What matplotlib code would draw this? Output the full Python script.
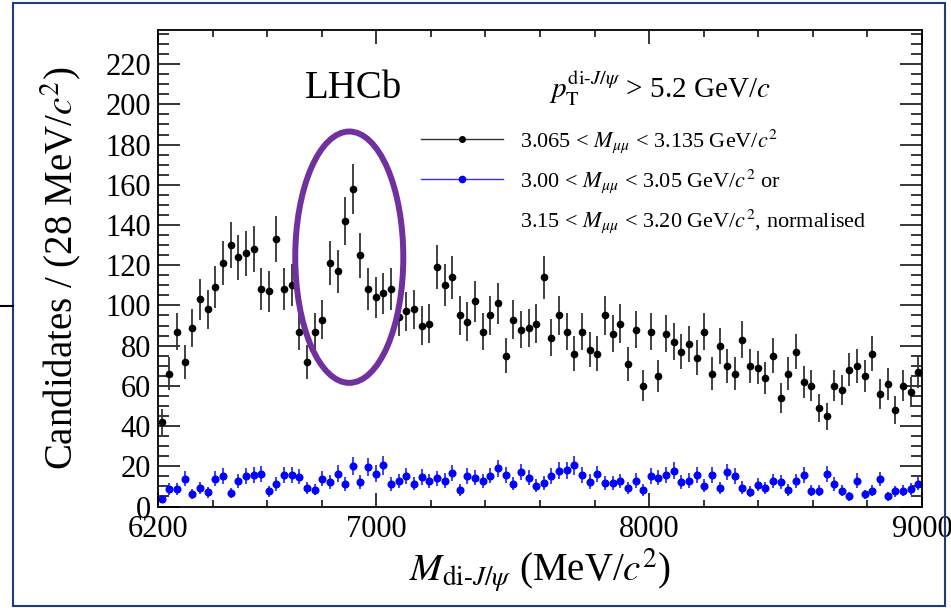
import numpy as np
import matplotlib
matplotlib.use('Agg')
import matplotlib.pyplot as plt
from matplotlib.lines import Line2D
from matplotlib.patches import Ellipse, Rectangle, Patch
from matplotlib.ticker import MultipleLocator

plt.rcParams['font.family'] = ['Liberation Serif', 'DejaVu Serif']
plt.rcParams['mathtext.fontset'] = 'stix'

# 100 bins of 28 MeV from 6200 to 9000 MeV
bin_lo, bin_w = 6200, 28
n_bins = 100

# signal window, di-J/psi candidates per bin
signal = [42, 66, 87, 72, 89, 103, 98, 109, 121, 130,
          124, 126, 128, 108, 107, 133, 108, 110, 87, 72,
          87, 93, 121, 117, 142, 158, 125, 108, 104, 106,
          108, 94.5, 97, 98, 90, 91, 119, 110, 114, 95,
          92, 102, 87, 95, 101, 75, 93, 88, 89, 91,
          114, 84, 95, 87, 76, 87, 78, 76, 95, 86,
          91, 71, 88, 60, 87, 65, 86, 82, 77, 81,
          74, 87, 66, 80, 70, 66, 83, 70, 69, 64,
          75, 54, 66, 77, 62, 60, 49, 45, 60, 58,
          68, 70, 65, 76, 56, 61, 48, 60, 57, 67]

# J/psi sidebands, normalised
sideband = [3.5, 8.8, 8.8, 13.9, 6.3, 9.3, 7.0, 13.9, 15.1, 6.6,
            12.6, 15.1, 15.7, 16.1, 7.5, 11.3, 15.7, 15.7, 14.9, 9.1,
            8.4, 13.9, 12.3, 16.4, 11.1, 20.0, 12.3, 19.5, 16.4, 20.4,
            11.3, 12.7, 15.1, 11.4, 14.7, 12.6, 14.1, 12.9, 16.7, 8.3,
            15.1, 14.4, 12.6, 15.4, 19.0, 15.7, 11.4, 17.1, 14.4, 10.4,
            11.8, 15.1, 17.7, 18.0, 20.4, 15.9, 12.4, 16.2, 11.9, 11.9,
            12.6, 9.3, 12.9, 8.3, 15.2, 14.4, 15.6, 17.9, 12.3, 12.9,
            15.9, 10.4, 15.7, 9.0, 17.2, 15.1, 9.4, 7.3, 10.8, 9.3,
            12.6, 12.3, 8.1, 12.6, 15.7, 7.8, 7.8, 16.1, 11.3, 7.8,
            5.1, 12.9, 6.0, 7.8, 13.7, 5.1, 7.5, 7.9, 8.9, 11.4]

labels = [r'3.065 < $M_{\mu\mu}$ < 3.135 GeV/$c^2$',
          r'3.00 < $M_{\mu\mu}$ < 3.05 GeV/$c^2$ or',
          r'3.15 < $M_{\mu\mu}$ < 3.20 GeV/$c^2$, normalised']

centres = bin_lo + bin_w * (np.arange(n_bins) + 0.5)
signal = np.array(signal)
sideband = np.array(sideband)

fig = plt.figure(figsize=(9.51, 6.08), dpi=100)
ax = fig.add_axes([158 / 951, 1 - 506.5 / 608, 764 / 951, 476.5 / 608])

# Poisson errors
ax.errorbar(centres, signal, yerr=np.sqrt(signal), fmt='o', color='black',
            ecolor='#333333', elinewidth=1.3, ms=4.5, capsize=0)
ax.errorbar(centres, sideband, yerr=np.sqrt(sideband), fmt='o', color='#0000ff',
            ecolor='#3030ff', elinewidth=1.3, ms=4.8, capsize=0)

ax.set_xlim(6200, 9000)
ax.set_ylim(0, 237)
ax.set_xticks([6200, 7000, 8000, 9000])
ax.xaxis.set_minor_locator(MultipleLocator(200))
ax.set_yticks(np.arange(0, 221, 20))
ax.yaxis.set_minor_locator(MultipleLocator(5))
ax.tick_params(which='both', direction='in', top=True, right=True, labelsize=22, width=1.1)
ax.tick_params(axis='x', which='major', length=10, pad=6)
ax.tick_params(axis='x', which='minor', length=5)
ax.tick_params(axis='y', which='major', length=16, pad=5)
ax.tick_params(axis='y', which='minor', length=8)
for s in ax.spines.values():
    s.set_linewidth(1.3)

ax.set_ylabel(r'Candidates / (28 MeV/$c^2$)', fontsize=28)
ax.set_xlabel(r'$M_{\mathrm{di}\text{-}J/\psi}$ (MeV/$c^2$)', fontsize=28)
ax.yaxis.set_label_coords(-0.128, 0.5)
ax.yaxis.label.set_va('center')
ax.xaxis.set_label_coords(0.5, -0.135)
ax.xaxis.label.set_va('center')

fig.text(353 / 951, 1 - 88 / 608, 'LHCb', fontsize=28, ha='center', va='center')
fig.text(549 / 951, 1 - 88 / 608, r'$p_{\mathrm{T}}^{\mathrm{di}\text{-}J/\psi}$ > 5.2 GeV/$c$',
         fontsize=21, ha='left', va='center')

handles = [Line2D([], [], color='#333333', lw=1, marker='o', ms=4, mfc='black', mec='black'),
           Line2D([], [], color='#3030ff', lw=1, marker='o', ms=4.5, mfc='#0000ff', mec='#0000ff'),
           Patch(visible=False)]
ax.legend(handles, labels, loc='upper left', bbox_to_anchor=(421 / 951, 1 - 127 / 608),
          bbox_transform=fig.transFigure, frameon=False, fontsize=16,
          handlelength=3.7, handletextpad=0.75, labelspacing=0.55,
          borderpad=0, borderaxespad=0)

# highlight around the peak
ax.add_patch(Ellipse((6901, 124), 396, 125, fill=False, ec='#7030a0', lw=4.3, zorder=5))

# slide frame
fig.patches.append(Rectangle((12.5 / 951, 1 - 606 / 608), 932 / 951, 603 / 608,
                             transform=fig.transFigure, fill=False, ec='#1f3c78', lw=1.5))
fig.lines.append(Line2D([0, 12.5 / 951], [1 - 306 / 608, 1 - 306 / 608],
                        transform=fig.transFigure, color='black', lw=1.5))

fig.savefig('out.png', dpi=100)
